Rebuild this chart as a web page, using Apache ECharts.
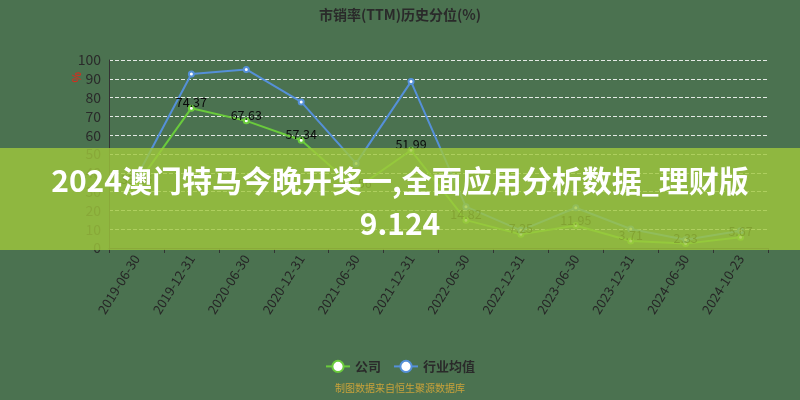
<!DOCTYPE html>
<html>
<head>
<meta charset="utf-8">
<script src="https://cdn.jsdelivr.net/npm/echarts@6/dist/echarts.min.js"></script>
<style>
html,body{margin:0;padding:0;background:#4b7250;}
#c{width:800px;height:400px;}
</style>
</head>
<body>
<div id="c"></div>
<script>
var categories = ['2019-06-30','2019-12-31','2020-06-30','2020-12-31','2021-06-30','2021-12-31','2022-06-30','2022-12-31','2023-06-30','2023-12-31','2024-06-30','2024-10-23'];
var companyValues = [33.46, 74.37, 67.63, 57.34, 31.56, 51.99, 14.82, 7.25, 11.95, 3.71, 2.33, 5.67];
var industryValues = [37.5, 92.6, 95.0, 77.7, 45.0, 88.5, 22.0, 9.4, 21.4, 10.1, 4.4, 9.2];
var yTicks = {min: 0, max: 100, interval: 10};

var FONT = '"Noto Sans CJK SC", "Noto Sans", sans-serif';
var chart = echarts.init(document.getElementById('c'));
chart.setOption({
  backgroundColor: '#4b7250',
  animation: false,
  textStyle: {fontFamily: FONT},
  title: {
    text: '市销率(TTM)历史分位(%)',
    left: 'center',
    top: 3,
    textStyle: {fontSize: 14, fontWeight: 'bold', color: '#2a2a2a', fontFamily: FONT}
  },
  legend: {
    bottom: 22,
    left: 'center',
    itemWidth: 24,
    itemHeight: 14,
    itemGap: 12,
    textStyle: {fontSize: 13, fontWeight: 'bold', color: '#2a2a2a', fontFamily: FONT},
    data: ['公司', '行业均值']
  },
  grid: {left: 109, right: 32, top: 60, bottom: 152},
  xAxis: {
    type: 'category',
    data: categories,
    axisLine: {lineStyle: {color: '#333'}},
    axisTick: {show: true, lineStyle: {color: '#333'}},
    axisLabel: {rotate: 58, fontSize: 13, color: '#262626', margin: 8, fontFamily: FONT}
  },
  yAxis: {
    type: 'value',
    min: yTicks.min,
    max: yTicks.max,
    interval: yTicks.interval,
    axisLine: {show: true, lineStyle: {color: '#333'}},
    axisTick: {show: false},
    axisLabel: {fontSize: 14, color: '#2a2a2a', margin: 8, fontFamily: FONT},
    splitLine: {lineStyle: {color: 'rgba(255,255,255,0.85)', type: 'dashed', width: 1}}
  },
  series: [
    {
      name: '公司',
      type: 'line',
      data: companyValues,
      symbol: 'emptyCircle',
      symbolSize: 5,
      lineStyle: {color: '#6acb3c', width: 2},
      itemStyle: {color: '#6acb3c', borderColor: '#e8ffe0'},
      label: {show: true, position: 'top', fontSize: 12.5, color: '#0a0a0a', distance: -4, fontFamily: FONT}
    },
    {
      name: '行业均值',
      type: 'line',
      data: industryValues,
      symbol: 'emptyCircle',
      symbolSize: 5,
      lineStyle: {color: '#5590d8', width: 2},
      itemStyle: {color: '#5590d8', borderColor: '#eef6ff'}
    }
  ],
  graphic: [
    {
      type: 'text',
      left: 71, top: 72,
      rotation: Math.PI / 2,
      style: {text: '%', fill: '#d03020', font: 'bold 11px ' + FONT}
    },
    {
      type: 'text',
      left: 'center', top: 383,
      style: {text: '制图数据来自恒生聚源数据库', fill: '#c9a23a', font: '10px ' + FONT}
    },
    {
      type: 'rect',
      z: 100,
      shape: {x: 0, y: 148, width: 800, height: 102},
      style: {fill: 'rgba(160,200,60,0.8)'}
    },
    {
      type: 'text',
      z: 101,
      left: 'center', top: 166,
      style: {text: '2024澳门特马今晚开奖一,全面应用分析数据_理财版', fill: '#ffffff', font: 'bold 30px ' + FONT}
    },
    {
      type: 'text',
      z: 101,
      left: 'center', top: 209,
      style: {text: '9.124', fill: '#ffffff', font: 'bold 30px ' + FONT}
    }
  ]
});
</script>
</body>
</html>
